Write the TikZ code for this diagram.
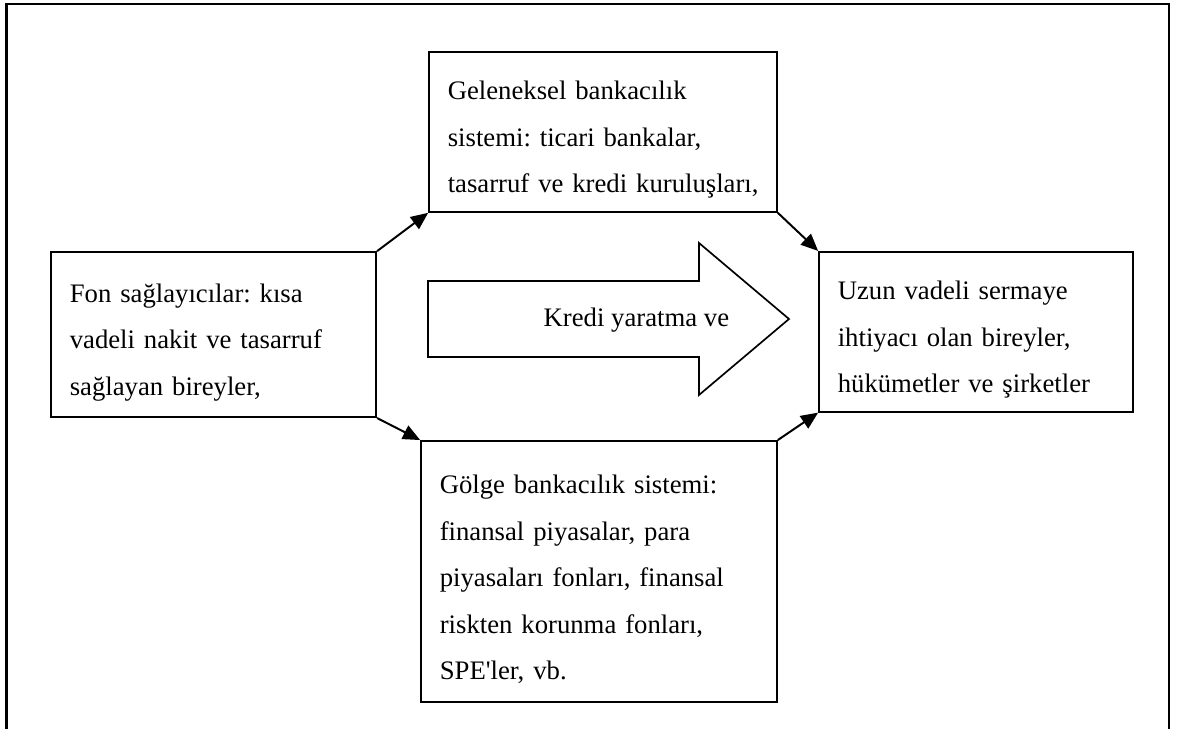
\documentclass[tikz,border=0pt]{standalone}
\usepackage{fontspec}
\setmainfont{Liberation Serif}
\usetikzlibrary{arrows.meta}
\frenchspacing

\begin{document}
\begin{tikzpicture}[
        kutu/.style={draw, line width=1.2pt, align=left, inner xsep=0.47cm, inner ysep=0pt,
            text height=0.86cm, font=\fontsize{19}{33.1}\selectfont},
        ok/.style={line width=1.4pt, -{Triangle[length=4.3mm,width=3.7mm]}}
    ]

        % Page frame (open at the bottom)
        \useasboundingbox (0,0) rectangle (29.475,18.225);
        \draw[line width=2pt] (0.16,0) -- (0.16,18.125) -- (29.225,18.125) -- (29.225,0);

        % Boxes
        \node[kutu, minimum width=8.13cm, minimum height=4.13cm, text width=7.19cm] (fon) at (5.34,9.86)
            {Fon sağlayıcılar: kısa\\ vadeli nakit ve tasarruf\\ sağlayan bireyler,};
        \node[kutu, minimum width=8.7cm, minimum height=4cm, text width=7.76cm] (gel) at (15.075,14.925)
            {Geleneksel bankacılık\\ sistemi: ticari bankalar,\\ \mbox{tasarruf ve kredi kuruluşları,}};
        \node[kutu, minimum width=8.9cm, minimum height=6.525cm, text width=7.96cm] (golge) at (14.975,3.94)
            {Gölge bankacılık sistemi:\\ finansal piyasalar, para\\ piyasaları fonları, finansal\\ riskten korunma fonları,\\ SPE\textquotesingle ler, vb.};
        \node[kutu, minimum width=7.85cm, minimum height=4cm, text width=6.91cm] (uzun) at (24.4,9.93)
            {Uzun vadeli sermaye\\ ihtiyacı olan bireyler,\\ hükümetler ve şirketler};

        % Big arrow in the middle
        \draw[line width=1.2pt] (10.7,11.2) -- (17.475,11.2) -- (17.475,12.15) -- (19.725,10.25)
            -- (17.475,8.35) -- (17.475,9.3) -- (10.7,9.3) -- cycle;
        \node[font=\fontsize{19}{33.1}\selectfont, anchor=base] (kredi) at (15.91,10.05) {Kredi yaratma ve};

        % Flows
        \draw[ok] (fon.north east) -- (gel.south west);
        \draw[ok] (fon.south east) -- (golge.north west);
        \draw[ok] (gel.south east) -- (uzun.north west);
        \draw[ok] (golge.north east) -- (uzun.south west);

    \end{tikzpicture}
\end{document}
